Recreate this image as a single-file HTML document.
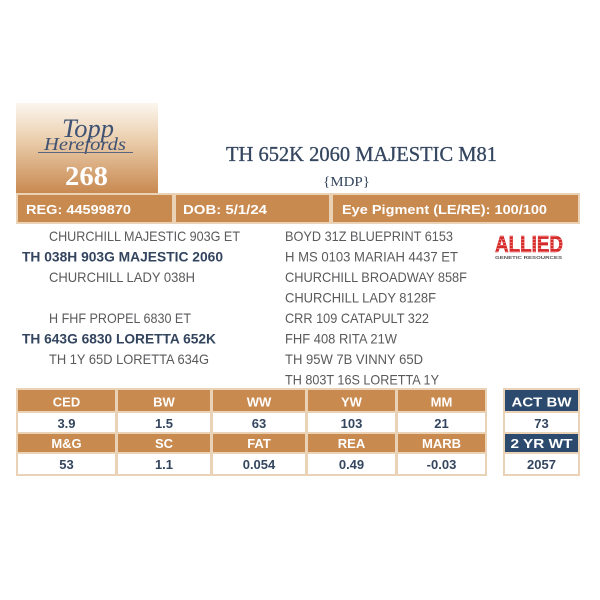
<!DOCTYPE html>
<html><head><meta charset="utf-8"><style>
html,body{margin:0;padding:0;background:#fff;}
svg{display:block;}
</style></head><body>
<svg width="600" height="600" viewBox="0 0 600 600" xmlns="http://www.w3.org/2000/svg">
<defs>
<linearGradient id="g1" x1="0" y1="0" x2="0" y2="1">
<stop offset="0" stop-color="#fcf6ef"/>
<stop offset="0.4" stop-color="#ebcfae"/>
<stop offset="1" stop-color="#c8884f"/>
</linearGradient>
<pattern id="stripe" width="4" height="3" patternUnits="userSpaceOnUse">
<rect width="4" height="2" fill="#d42a2a"/><rect y="2" width="4" height="1" fill="#f07a7a"/>
</pattern>
</defs>
<rect width="600" height="600" fill="#fff"/>
<!-- header box -->
<rect x="16" y="103" width="142" height="91" fill="url(#g1)"/>
<text x="62" y="137" font-family="Liberation Serif" font-style="italic" font-size="26" fill="#3f5273" textLength="52" lengthAdjust="spacingAndGlyphs">Topp</text>
<text x="44" y="150" font-family="Liberation Serif" font-style="italic" font-size="18" fill="#3f5273" textLength="82" lengthAdjust="spacingAndGlyphs">Herefords</text>
<line x1="38" y1="152.5" x2="133" y2="152.5" stroke="#5a6680" stroke-width="1"/>
<text x="86.5" y="185" text-anchor="middle" font-family="Liberation Serif" font-weight="bold" font-size="27" fill="#fff" textLength="43" lengthAdjust="spacingAndGlyphs">268</text>
<!-- title -->
<text x="226" y="161" font-family="Liberation Serif" font-size="21" fill="#34465f" stroke="#34465f" stroke-width="0.3" textLength="271" lengthAdjust="spacingAndGlyphs">TH 652K 2060 MAJESTIC M81</text>
<text x="323" y="186" font-family="Liberation Serif" font-size="13.5" fill="#34465f" textLength="47" lengthAdjust="spacingAndGlyphs">{MDP}</text>
<!-- REG bar -->
<rect x="16" y="193" width="564" height="31" fill="#e9d2b6"/>
<rect x="18" y="195" width="154" height="27" fill="#c98a50"/>
<rect x="176" y="195" width="153" height="27" fill="#c98a50"/>
<rect x="333" y="195" width="245" height="27" fill="#c98a50"/>
<text x="26" y="214" font-family="Liberation Sans" font-weight="bold" font-size="13" fill="#fff" textLength="105" lengthAdjust="spacingAndGlyphs">REG: 44599870</text>
<text x="183" y="214" font-family="Liberation Sans" font-weight="bold" font-size="13" fill="#fff" textLength="84" lengthAdjust="spacingAndGlyphs">DOB: 5/1/24</text>
<text x="342" y="214" font-family="Liberation Sans" font-weight="bold" font-size="13" fill="#fff" textLength="205" lengthAdjust="spacingAndGlyphs">Eye Pigment (LE/RE): 100/100</text>
<!-- pedigree left -->
<g font-family="Liberation Sans" font-size="14">
<text x="49" y="241" fill="#5a5a5c" textLength="191" lengthAdjust="spacingAndGlyphs">CHURCHILL MAJESTIC 903G ET</text>
<text x="22" y="261.5" fill="#33445e" font-weight="bold" textLength="201" lengthAdjust="spacingAndGlyphs">TH 038H 903G MAJESTIC 2060</text>
<text x="49" y="282" fill="#5a5a5c" textLength="146" lengthAdjust="spacingAndGlyphs">CHURCHILL LADY 038H</text>
<text x="49" y="323" fill="#5a5a5c" textLength="142" lengthAdjust="spacingAndGlyphs">H FHF PROPEL 6830 ET</text>
<text x="22" y="343.5" fill="#33445e" font-weight="bold" textLength="194" lengthAdjust="spacingAndGlyphs">TH 643G 6830 LORETTA 652K</text>
<text x="49" y="364" fill="#5a5a5c" textLength="160" lengthAdjust="spacingAndGlyphs">TH 1Y 65D LORETTA 634G</text>
<!-- right -->
<text x="285" y="241" fill="#5a5a5c" textLength="168" lengthAdjust="spacingAndGlyphs">BOYD 31Z BLUEPRINT 6153</text>
<text x="285" y="261.5" fill="#5a5a5c" textLength="173" lengthAdjust="spacingAndGlyphs">H MS 0103 MARIAH 4437 ET</text>
<text x="285" y="282" fill="#5a5a5c" textLength="182" lengthAdjust="spacingAndGlyphs">CHURCHILL BROADWAY 858F</text>
<text x="285" y="302.5" fill="#5a5a5c" textLength="151" lengthAdjust="spacingAndGlyphs">CHURCHILL LADY 8128F</text>
<text x="285" y="323" fill="#5a5a5c" textLength="144" lengthAdjust="spacingAndGlyphs">CRR 109 CATAPULT 322</text>
<text x="285" y="343.5" fill="#5a5a5c" textLength="112" lengthAdjust="spacingAndGlyphs">FHF 408 RITA 21W</text>
<text x="285" y="364" fill="#5a5a5c" textLength="138" lengthAdjust="spacingAndGlyphs">TH 95W 7B VINNY 65D</text>
<text x="285" y="384.5" fill="#5a5a5c" textLength="154" lengthAdjust="spacingAndGlyphs">TH 803T 16S LORETTA 1Y</text>
</g>
<!-- ALLIED logo -->
<text x="495" y="252" font-family="Liberation Sans" font-weight="bold" font-size="23" fill="url(#stripe)" stroke="#d42a2a" stroke-width="0.6" textLength="68" lengthAdjust="spacingAndGlyphs">ALLIED</text>
<text x="495" y="259" font-family="Liberation Sans" font-weight="bold" font-size="4.5" fill="#555" textLength="67" lengthAdjust="spacingAndGlyphs">GENETIC RESOURCES</text>
<!-- EPD table -->
<rect x="16" y="388" width="471" height="88" fill="#e9d2b6"/>
<g fill="#c98a50">
<rect x="18" y="390" width="97" height="21"/><rect x="118" y="390" width="92" height="21"/><rect x="213" y="390" width="92" height="21"/><rect x="308" y="390" width="87" height="21"/><rect x="398" y="390" width="87" height="21"/>
<rect x="18" y="434" width="97" height="18"/><rect x="118" y="434" width="92" height="18"/><rect x="213" y="434" width="92" height="18"/><rect x="308" y="434" width="87" height="18"/><rect x="398" y="434" width="87" height="18"/>
</g>
<g fill="#fff">
<rect x="18" y="413" width="97" height="19"/><rect x="118" y="413" width="92" height="19"/><rect x="213" y="413" width="92" height="19"/><rect x="308" y="413" width="87" height="19"/><rect x="398" y="413" width="87" height="19"/>
<rect x="18" y="454" width="97" height="20"/><rect x="118" y="454" width="92" height="20"/><rect x="213" y="454" width="92" height="20"/><rect x="308" y="454" width="87" height="20"/><rect x="398" y="454" width="87" height="20"/>
</g>
<g font-family="Liberation Sans" font-weight="bold" font-size="13" text-anchor="middle">
<g fill="#fff">
<text x="66.5" y="406.5">CED</text><text x="164" y="406.5">BW</text><text x="259" y="406.5">WW</text><text x="351.5" y="406.5">YW</text><text x="441.5" y="406.5">MM</text>
<text x="66.5" y="448">M&amp;G</text><text x="164" y="448">SC</text><text x="259" y="448">FAT</text><text x="351.5" y="448">REA</text><text x="441.5" y="448">MARB</text>
</g>
<g fill="#34465f">
<text x="66.5" y="428">3.9</text><text x="164" y="428">1.5</text><text x="259" y="428">63</text><text x="351.5" y="428">103</text><text x="441.5" y="428">21</text>
<text x="66.5" y="469">53</text><text x="164" y="469">1.1</text><text x="259" y="469">0.054</text><text x="351.5" y="469">0.49</text><text x="441.5" y="469">-0.03</text>
</g>
</g>
<!-- right table -->
<rect x="503" y="388" width="77" height="88" fill="#e9d2b6"/>
<rect x="505" y="390" width="73" height="21" fill="#2c4a6e"/>
<rect x="505" y="413" width="73" height="19" fill="#fff"/>
<rect x="505" y="434" width="73" height="18" fill="#2c4a6e"/>
<rect x="505" y="454" width="73" height="20" fill="#fff"/>
<g font-family="Liberation Sans" font-weight="bold" font-size="13" text-anchor="middle">
<text x="541.5" y="406.5" fill="#fff" textLength="60" lengthAdjust="spacingAndGlyphs">ACT BW</text>
<text x="541.5" y="428" fill="#34465f">73</text>
<text x="541.5" y="448" fill="#fff" textLength="62" lengthAdjust="spacingAndGlyphs">2 YR WT</text>
<text x="541.5" y="469" fill="#34465f">2057</text>
</g>
</svg>
</body></html>
